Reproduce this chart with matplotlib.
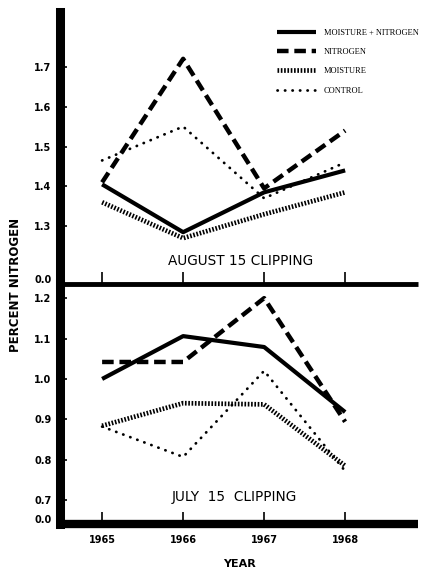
import matplotlib
matplotlib.use('Agg')
import matplotlib.pyplot as plt
from matplotlib.lines import Line2D

years = [1965, 1966, 1967, 1968]
series_names = ['MOISTURE + NITROGEN', 'NITROGEN', 'MOISTURE', 'CONTROL']

# August 15 clipping (percent nitrogen)
aug_mn = [1.405, 1.285, 1.385, 1.44]
aug_n = [1.41, 1.72, 1.395, 1.54]
aug_m = [1.36, 1.27, 1.33, 1.385]
aug_c = [1.465, 1.55, 1.37, 1.46]

# July 15 clipping
jul_mn = [1.00, 1.106, 1.079, 0.918]
jul_n = [1.042, 1.042, 1.20, 0.894]
jul_m = [0.884, 0.94, 0.937, 0.785]
jul_c = [0.882, 0.807, 1.02, 0.772]

aug_ticks = [1.3, 1.4, 1.5, 1.6, 1.7]
jul_ticks = [0.7, 0.8, 0.9, 1.0, 1.1, 1.2]

styles = [
    dict(color='black', lw=3.0, linestyle='-', solid_capstyle='butt'),
    dict(color='black', lw=3.2, linestyle=(0, (2.6, 1.3)), dash_capstyle='butt'),
    dict(color='black', lw=3.4, linestyle=(0, (0.35, 0.35)), dash_capstyle='butt'),
    dict(color='black', lw=2.0, linestyle=(0, (0.1, 2.6)), dash_capstyle='round'),
]

fig = plt.figure(figsize=(4.21, 5.69), dpi=100)
ax1 = fig.add_axes([0.1425, 0.5009, 0.8505, 0.4780])
ax2 = fig.add_axes([0.1425, 0.0791, 0.8505, 0.4218])

def style_axes(ax, ylo, yhi, ticks, show_x, bottom_lw):
    ax.set_xlim(1964.48, 1968.9)
    ax.set_ylim(ylo, yhi)
    for s in ['top', 'right']:
        ax.spines[s].set_visible(False)
    ax.spines['left'].set_linewidth(6.5)
    ax.spines['bottom'].set_linewidth(bottom_lw)
    ax.spines['bottom'].set_capstyle('butt')
    ax.set_xticks(years)
    ax.set_yticks([ylo + 0.012] + ticks)
    ax.set_yticklabels(['0.0'] + ['%.1f' % t for t in ticks],
                       fontsize=7, fontweight='bold')
    ax.tick_params(axis='y', direction='in', length=5, width=1.2, pad=6)
    ax.tick_params(axis='x', direction='in', length=8.5, width=1.2, pad=8)
    if show_x:
        ax.set_xticklabels([str(y) for y in years], fontsize=7, fontweight='bold')
    else:
        ax.set_xticklabels([])
    ax.yaxis.get_major_ticks()[0].tick1line.set_visible(False)
    ax.patch.set_alpha(0)

for vals, st in zip([aug_mn, aug_n, aug_m, aug_c], styles):
    ax1.plot(years, vals, **st)
for vals, st in zip([jul_mn, jul_n, jul_m, jul_c], styles):
    ax2.plot(years, vals, **st)

style_axes(ax1, 1.155, 1.8375, aug_ticks, False, 3.5)
style_axes(ax2, 0.641, 1.235, jul_ticks, True, 6)

ax1.text(0.503, 0.084, 'AUGUST 15 CLIPPING', transform=ax1.transAxes,
         ha='center', va='center', fontsize=9.8)
ax2.text(0.486, 0.1125, 'JULY  15  CLIPPING', transform=ax2.transAxes,
         ha='center', va='center', fontsize=9.8)
ax2.set_xlabel('YEAR', fontsize=8, fontweight='bold', labelpad=10)
fig.text(0.038, 0.499, 'PERCENT NITROGEN', rotation=90, ha='center',
         va='center', fontsize=8.5, fontweight='bold')

handles = [Line2D([], [], **st) for st in styles]
fig.legend(handles, series_names, loc='upper left',
           bbox_to_anchor=(0.658, 0.949), frameon=False,
           prop={'family': 'Liberation Serif', 'size': 6},
           handlelength=4.7, handletextpad=0.95, labelspacing=1.34,
           borderaxespad=0, borderpad=0)

fig.savefig('out.png', dpi=100)
